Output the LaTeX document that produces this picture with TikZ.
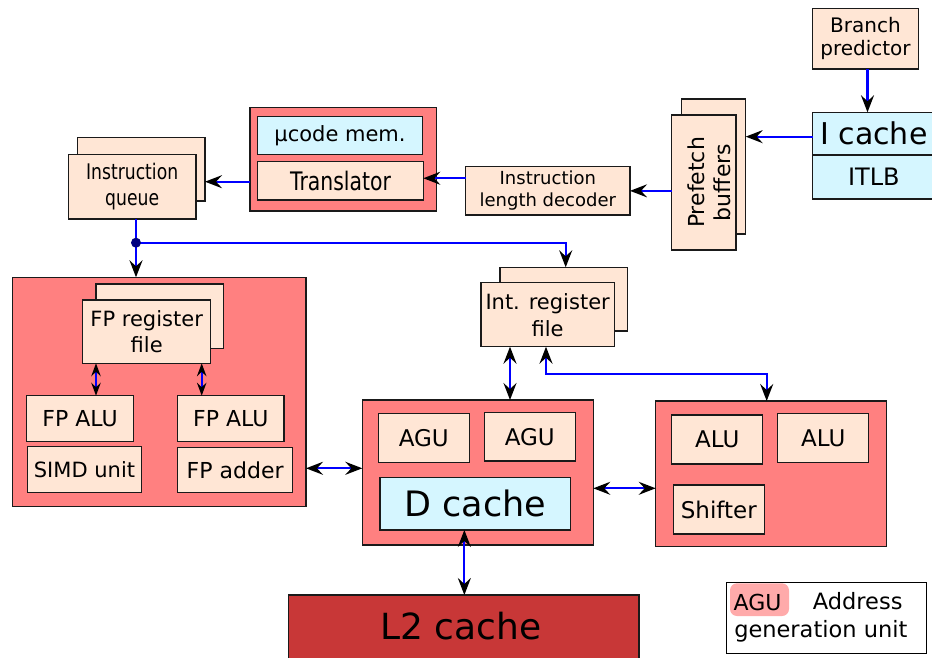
\documentclass[tikz,border=0pt]{standalone}
\usepackage{fontspec}
\setmainfont{DejaVu Sans}
\newfontfamily\condfont{DejaVu Sans}[FakeStretch=0.8]
\usetikzlibrary{arrows.meta,calc}
\definecolor{salmon}{HTML}{FF8080}
\definecolor{peach}{HTML}{FFE6D5}
\definecolor{lcyan}{HTML}{D5F6FF}
\definecolor{ltwo}{HTML}{C83737}
\definecolor{pillc}{HTML}{FFAAAA}
\definecolor{navyc}{HTML}{000080}
\definecolor{edgec}{HTML}{1A1A1A}
\newcommand\fsz[2]{\fontsize{#1}{#2}\selectfont}
\tikzset{
  hd/.tip={Stealth[length=17pt,width=13pt,inset=6pt,color=black]},
  shd/.tip={Stealth[length=13pt,width=9.5pt,inset=4.5pt,color=black]},
  box/.style={draw=edgec, line width=1.3pt, inner sep=0pt, outer sep=0pt, align=center},
  unit/.style={box, fill=peach},
  cach/.style={box, fill=lcyan},
  block/.style={box, fill=salmon, line width=1.5pt},
  wire/.style={draw=blue, line width=2.2pt},
  arr/.style={wire, -{hd}},
  darr/.style={wire, {hd}-{hd}},
  sdarr/.style={draw=blue, line width=1.9pt, {shd}-{shd}},
}
\begin{document}
\begin{tikzpicture}[x=1pt,y=-1pt]
\useasboundingbox (0,0) rectangle (932,658);
\clip (0,0) rectangle (932,658);
\fill[white] (0,0) rectangle (932,658);

% branch predictor and I cache
\node[unit, minimum width=105.6pt, minimum height=60.7pt, font=\fsz{20}{23}] (bp) at (865.5,38.65) {Branch\\predictor};
\node[cach, minimum width=122.3pt, minimum height=42.7pt, font=\fsz{30}{36}] (ic) at (873.85,133.65) {I cache};
\node[cach, minimum width=122.3pt, minimum height=44pt, font=\fsz{24}{28}] (itlb) at (873.85,177) {ITLB};

% prefetch buffers
\node[unit, minimum width=64pt, minimum height=135pt] (pfb) at (713.7,166.5) {};
\node[unit, minimum width=64.3pt, minimum height=135pt] (pff) at (703.85,182.5) {};
\node[rotate=90, align=center, font=\fsz{22}{26}] (pft) at (709,182.5) {Prefetch\\buffers};

% instruction length decoder
\node[unit, minimum width=164.3pt, minimum height=48.3pt, font=\fsz{18}{21.7}] (ild) at (547.85,190.85) {Instruction\\length decoder};

% microcode block
\node[block, minimum width=186.7pt, minimum height=103.7pt] (ucb) at (343.35,159.15) {};
\node[cach, minimum width=164.6pt, minimum height=37.6pt, font=\fsz{21}{25}] (ucm) at (340,135.5) {µcode mem.};
\node[unit, minimum width=165.6pt, minimum height=38.3pt, font=\condfont\fsz{25.5}{30}] (tr) at (340.5,180.85) {Translator};

% instruction queue
\node[unit, minimum width=127.7pt, minimum height=63.7pt] (iqb) at (141.15,169.15) {};
\node[unit, minimum width=127.7pt, minimum height=64.7pt, font=\condfont\fsz{21.5}{26.7}] (iqf) at (132.15,186.65) {Instruction\\queue};

% FP block
\node[block, minimum width=293.7pt, minimum height=229.4pt] (fp) at (159.15,392) {};
\node[unit, minimum width=127.3pt, minimum height=64.3pt] (frb) at (159.65,316.15) {};
\node[unit, minimum width=128pt, minimum height=63.3pt, font=\fsz{21}{26}] (frf) at (146.7,331.65) {FP register\\file};
\node[unit, minimum width=106.6pt, minimum height=46pt, font=\fsz{22}{26}] (fa1) at (80,418.7) {FP ALU};
\node[unit, minimum width=114.4pt, minimum height=46pt, font=\fsz{21}{26}] (simd) at (84.5,469.7) {SIMD unit};
\node[unit, minimum width=106.3pt, minimum height=46pt, font=\fsz{22}{26}] (fa2) at (230.85,418.7) {FP ALU};
\node[unit, minimum width=115pt, minimum height=45.4pt, font=\fsz{22}{26}] (fadd) at (235.2,470) {FP adder};

% integer register file
\node[unit, minimum width=127.7pt, minimum height=63.7pt] (irb) at (563.85,299.15) {};
\node[unit, minimum width=133.3pt, minimum height=64pt, font=\fsz{21}{27}] (irf) at (547.65,314.7) {Int. register\\file};

% D cache block
\node[block, minimum width=231pt, minimum height=145pt] (db) at (477.8,472.5) {};
\node[unit, minimum width=91pt, minimum height=49pt, font=\fsz{23}{27}] (agu1) at (423.8,437.8) {AGU};
\node[unit, minimum width=91pt, minimum height=48.7pt, font=\fsz{23}{27}] (agu2) at (529.8,436.65) {AGU};
\node[cach, minimum width=190.7pt, minimum height=52.3pt, font=\fsz{35}{40}] (dc) at (475.35,503.85) {D cache};

% ALU block
\node[block, minimum width=231pt, minimum height=145.7pt] (ab) at (771.2,473.85) {};
\node[unit, minimum width=91pt, minimum height=49pt, font=\fsz{23}{27}] (alu1) at (717.2,439.5) {ALU};
\node[unit, minimum width=91pt, minimum height=49.4pt, font=\fsz{23}{27}] (alu2) at (823.2,438) {ALU};
\node[unit, minimum width=91pt, minimum height=49pt, font=\fsz{23}{27}] (shf) at (718.8,509.5) {Shifter};

% L2 cache
\node[box, fill=ltwo, minimum width=350.7pt, minimum height=70pt] (l2) at (463.65,630) {};
\node[anchor=base, font=\fsz{36}{40}] (l2t) at (461,639) {L2 cache};

% legend
\node[draw=black, line width=1.3pt, fill=white, minimum width=200pt, minimum height=71pt, inner sep=0pt] (leg) at (826.7,617.8) {};
\node[fill=pillc, rounded corners=7pt, minimum width=59pt, minimum height=32.7pt, inner sep=0pt] (pillbg) at (759.5,599.65) {};
\node[anchor=base, font=\fsz{22}{26}] (pilltxt) at (757.6,610) {AGU};
\node[anchor=base, font=\fsz{22.5}{26}] (addr) at (857.7,609.3) {Address};
\node[anchor=base, font=\fsz{22.5}{26}] (gen) at (820.8,637) {generation unit};

% connectors
\draw[arr] ([xshift=2pt]bp.south) -- ([xshift=2pt]bp.south |- ic.north);
\coordinate (icw) at ([yshift=-3pt]ic.west);
\draw[arr] (icw) -- (icw -| pfb.east);
\draw[arr] (pff.west |- ild.east) -- (ild.east);
\coordinate (ildw) at ([yshift=12.6pt]ild.west);
\draw[arr] (ildw) -- (ildw -| tr.east);
\coordinate (ucw) at ([yshift=-22.55pt]ucb.west);
\draw[arr] (ucw) -- (ucw -| iqb.east);

\coordinate (jn) at (136,242.7);
\draw[wire] (iqf.south -| jn) -- (jn);
\draw[arr] (jn) -- (jn |- fp.north);
\draw[arr] (jn) -| ([xshift=1.85pt]irb.north);
\fill[navyc] (jn) circle (5pt);

\coordinate (fr1) at ([xshift=13.3pt]frf.south west);
\coordinate (fr2) at ([xshift=-9pt]frf.south east);
\draw[sdarr] (fr1) -- (fr1 |- fa1.north);
\draw[sdarr] (fr2) -- (fr2 |- fa2.north);

\coordinate (dw) at ([yshift=4.2pt]db.west);
\draw[darr] (fp.east |- dw) -- (dw);
\coordinate (de) at ([yshift=-15.8pt]db.east);
\draw[darr] (de) -- (ab.west |- de);

\coordinate (irs) at ([xshift=-37.65pt]irf.south);
\draw[darr] (irs) -- (irs |- db.north);
\coordinate (bend) at (766.7,374);
\draw[darr] ([xshift=-1.65pt]irf.south) |- (bend) -- (bend |- ab.north);

\coordinate (dcs) at ([xshift=-11pt]dc.south);
\draw[darr] (dcs) -- (dcs |- l2.north);
\end{tikzpicture}
\end{document}
